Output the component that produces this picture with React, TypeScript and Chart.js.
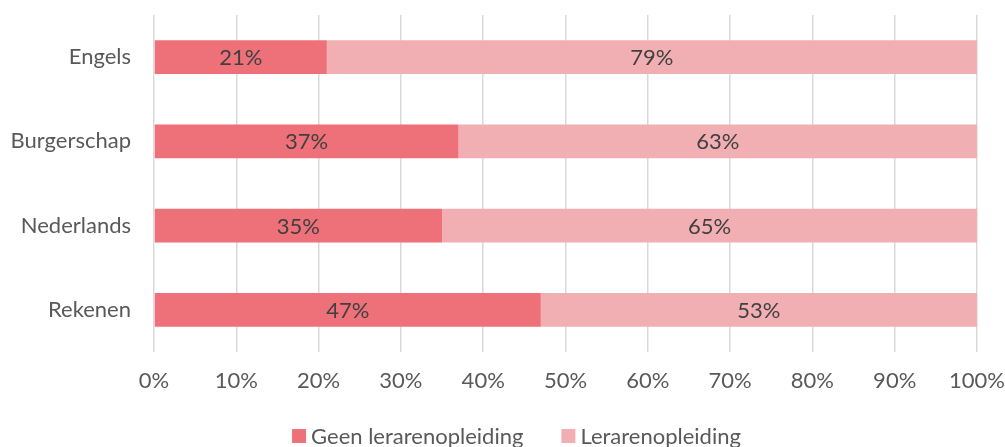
import React, { useEffect, useRef } from "react";
import { Chart, registerables } from "chart.js";

Chart.register(...registerables);

const categories = ["Engels", "Burgerschap", "Nederlands", "Rekenen"];
const seriesNames = ["Geen lerarenopleiding", "Lerarenopleiding"];
const geenValues = [21, 37, 35, 47];
const lerarenValues = [79, 63, 65, 53];
const xTicks = [0, 10, 20, 30, 40, 50, 60, 70, 80, 90, 100];

const FONT = "Lato, 'Noto Sans', sans-serif";
const FS = 22;
const DARK = "#EE7078";
const LIGHT = "#F2AFB3";

const valueLabelPlugin = {
  id: "valueLabels",
  afterDatasetsDraw(chart: any) {
    const ctx = chart.ctx;
    ctx.save();
    ctx.font = `${FS}px ${FONT}`;
    ctx.fillStyle = "#404040";
    ctx.textAlign = "center";
    ctx.textBaseline = "middle";
    chart.data.datasets.forEach((ds: any, i: number) => {
      const meta = chart.getDatasetMeta(i);
      meta.data.forEach((el: any, j: number) => {
        const p = el.getProps(["x", "y", "base"], true);
        ctx.fillText(`${ds.data[j]}%`, (p.x + p.base) / 2, p.y + 1);
      });
    });
    ctx.restore();
  },
};

const customLegendPlugin = {
  id: "customLegend",
  afterDraw(chart: any) {
    const ctx = chart.ctx;
    ctx.save();
    ctx.font = `${FS}px ${FONT}`;
    ctx.textBaseline = "middle";
    ctx.textAlign = "left";
    const box = 14;
    const gapText = 5;
    const gapItems = 38;
    const items = chart.data.datasets.map((ds: any) => ({
      label: ds.label,
      color: ds.backgroundColor,
      w: ctx.measureText(ds.label).width,
    }));
    let total = 0;
    items.forEach((it: any, i: number) => {
      total += box + gapText + it.w + (i < items.length - 1 ? gapItems : 0);
    });
    const cy = 436;
    let x = chart.width / 2 + 14 - total / 2;
    items.forEach((it: any) => {
      ctx.fillStyle = it.color;
      ctx.fillRect(x, cy - box / 2, box, box);
      ctx.fillStyle = "#595959";
      ctx.fillText(it.label, x + box + gapText, cy + 1);
      x += box + gapText + it.w + gapItems;
    });
    ctx.restore();
  },
};

export default function App() {
  const ref = useRef<HTMLCanvasElement | null>(null);

  useEffect(() => {
    if (!ref.current) return;
    const chart = new Chart(ref.current, {
      type: "bar",
      data: {
        labels: categories,
        datasets: [
          {
            label: seriesNames[0],
            data: geenValues,
            backgroundColor: DARK,
            barPercentage: 0.4,
            categoryPercentage: 1,
          },
          {
            label: seriesNames[1],
            data: lerarenValues,
            backgroundColor: LIGHT,
            barPercentage: 0.4,
            categoryPercentage: 1,
          },
        ],
      },
      options: {
        indexAxis: "y",
        responsive: false,
        animation: false,
        layout: { padding: { top: 15, right: 28, left: 0, bottom: 35 } },
        plugins: {
          legend: { display: false },
          tooltip: { enabled: false },
        },
        scales: {
          x: {
            stacked: true,
            min: 0,
            max: 100,
            afterBuildTicks: (scale: any) => {
              scale.ticks = xTicks.map((v) => ({ value: v }));
            },
            afterFit: (scale: any) => {
              scale.height = 60;
              scale.paddingLeft = 0;
              scale.paddingRight = 0;
            },
            ticks: {
              callback: (v: any) => `${v}%`,
              color: "#595959",
              font: { family: FONT, size: FS },
              padding: 16,
              maxRotation: 0,
              autoSkip: false,
            },
            grid: { color: "#D9D9D9", lineWidth: 1.5, drawTicks: false },
            border: { display: false },
          },
          y: {
            stacked: true,
            afterFit: (scale: any) => {
              scale.width = 154;
              scale.paddingTop = 0;
              scale.paddingBottom = 0;
            },
            ticks: {
              color: "#595959",
              font: { family: FONT, size: FS },
              padding: 23,
            },
            grid: { display: false, drawTicks: false },
            border: { display: false },
          },
        },
      },
      plugins: [valueLabelPlugin, customLegendPlugin],
    });
    return () => chart.destroy();
  }, []);

  return (
    <div style={{ position: "fixed", left: 0, top: 0, width: 1005, height: 447, background: "#fff" }}>
      <canvas ref={ref} width={1005} height={447} style={{ width: 1005, height: 447 }} />
    </div>
  );
}
